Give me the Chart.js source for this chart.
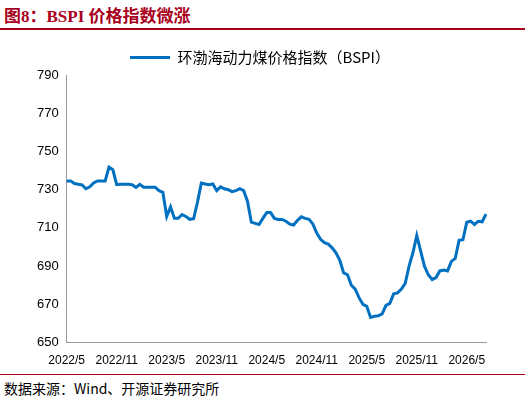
<!DOCTYPE html>
<html><head><meta charset="utf-8">
<script src="https://cdn.jsdelivr.net/npm/chart.js@4"></script>
<style>
body{margin:0;width:525px;height:405px;background:#fff;font-family:"Noto Sans CJK SC",sans-serif;position:relative;overflow:hidden}
#title{position:absolute;left:4px;top:2px;font-size:17px;font-weight:bold;color:#a8001c;font-family:"Liberation Serif","Noto Sans CJK SC",serif}
#title span{font-family:"Noto Sans CJK SC"}
#topline{position:absolute;left:0;top:28px;width:525px;height:2px;background:#a8001c}
#botline{position:absolute;left:0;top:374px;width:525px;height:1px;background:#a8001c}
#src{position:absolute;left:4px;top:378px;font-size:14px;color:#000}
#wrap{position:absolute;left:0;top:40px;width:520px;height:331px}
</style></head><body>
<div id="title">图8：BSPI <span>价格指数微涨</span></div>
<div id="topline"></div>
<div id="wrap"><canvas id="c"></canvas></div>
<div id="botline"></div>
<div id="src">数据来源：Wind、开源证券研究所</div>
<script>
const seriesName = '环渤海动力煤价格指数（BSPI）';
const tickLabels = ['2022/5','2022/11','2023/5','2023/11','2024/5','2024/11','2025/5','2025/11','2026/5'];
const bspi = [734.6,734.6,733.2,732.8,732.5,730.5,731.5,733.5,734.6,734.6,734.6,741.8,740.5,732.6,732.8,732.8,732.8,732.6,731.2,732.8,
731.3,731.3,731.3,731.3,729.5,728.6,716,721,715,715,717,716,714.5,714.8,723.5,733.5,733,732.6,733,729.5,
731.5,730.5,730,729,729.5,730.5,729.5,724,713,712.4,711.8,715,718,718,715,714.4,714.4,713.5,712,711.5,
714,715.8,715,714.5,712,707.3,704,702.3,701.5,699.6,697,693,686.5,685.5,680,678,673.5,670,669,663.2,
663.8,664,665,669.5,670.5,675.5,676,678,681,690,697,706,698,690,685.5,683,684,687.5,688,687.5,
692.5,694,703.5,703.8,713,713.5,711.8,713.5,713.2,717.2];
const labels = bspi.map((v,i) => i % 13 === 0 ? (tickLabels[i/13] || '') : '');

new Chart(document.getElementById('c'), {
  type: 'line',
  data: { labels: labels, datasets: [{ label: seriesName, data: bspi, borderColor: '#0070c0', borderWidth: 3, pointRadius: 0, tension: 0 }] },
  options: {
    responsive: true, maintainAspectRatio: false, animation: false,
    layout: { padding: { left: 34, right: 34, top: 0 } },
    plugins: {
      legend: { labels: { boxWidth: 40, boxHeight: 0, font: { size: 15, family: 'Noto Sans CJK SC' }, color: '#000', padding: 10 } },
      tooltip: { enabled: false }
    },
    scales: {
      x: { grid: { display: false, drawTicks: true }, border: { color: '#999' },
           ticks: { autoSkip: false, maxRotation: 0, font: { size: 12, family: 'Liberation Sans' }, color: '#000',
                    callback: function(v) { return this.getLabelForValue(v); } } },
      y: { min: 650, max: 790, grid: { display: false, drawTicks: true, tickLength: 5 }, border: { color: '#999' },
           ticks: { stepSize: 20, font: { size: 13, family: 'Liberation Sans' }, color: '#000' } }
    }
  }
});
</script>
</body></html>
